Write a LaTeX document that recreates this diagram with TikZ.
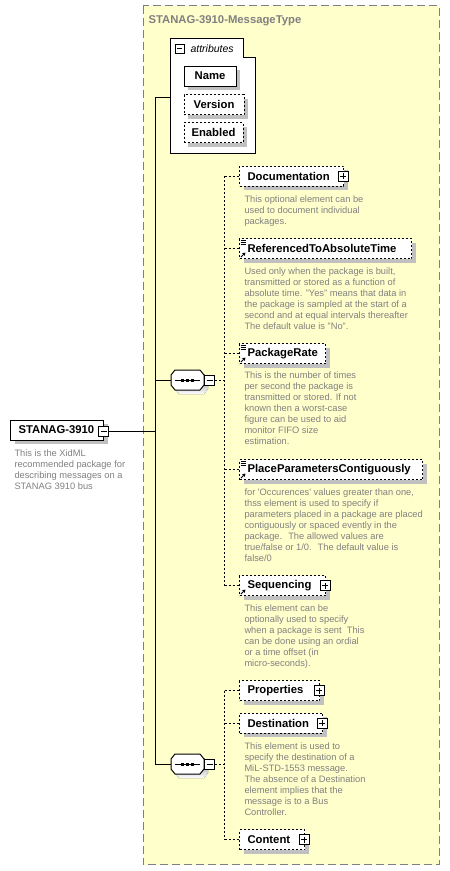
\documentclass[tikz,border=0pt]{standalone}
\usepackage{fontspec}
\setmainfont{Liberation Sans}
\usetikzlibrary{shadows,arrows.meta,positioning}

\definecolor{boxfill}{RGB}{255,255,204}
\definecolor{descgray}{RGB}{128,128,128}
\definecolor{shade}{RGB}{192,192,192}
\newcommand\elfont{\fontsize{11.3}{13}\selectfont\bfseries}
\newcommand\descfont{\fontsize{9.3}{11}\selectfont}
\newcommand\textlines[1]{\foreach \k in {2,4,6} {\draw ([xshift=1.5pt,yshift=-\k pt]#1.north west) -- ++(5pt,0);}}
\newcommand\refarrow[1]{\draw[-{Triangle[length=3pt,width=3.5pt]}] ([xshift=2pt,yshift=2pt]#1.south west) -- ++(4.5pt,4.5pt);}

\tikzset{
  dots/.style={dash pattern=on 2pt off 2pt},
  boxshadow/.style={drop shadow={shadow xshift=4pt, shadow yshift=-4pt, fill=shade, opacity=1}},
  elem/.style={draw, fill=white, anchor=west, minimum height=20pt, inner xsep=8pt, inner ysep=0pt,
    text width=#1, align=left, font=\elfont, boxshadow},
  attr/.style={draw, fill=white, minimum height=20pt, minimum width=#1, inner sep=0pt, font=\elfont, boxshadow},
  % anchored at the baseline of the last line
  desc/.style={anchor=base west, inner sep=0pt, align=left, font=\descfont, text=descgray},
  minus/.style={draw, fill=white, minimum size=10pt, inner sep=0pt,
    path picture={\draw ([xshift=2pt]path picture bounding box.west) -- ([xshift=-2pt]path picture bounding box.east);}},
  plus/.style={minus, path picture={
    \draw ([xshift=2pt]path picture bounding box.west) -- ([xshift=-2pt]path picture bounding box.east);
    \draw ([yshift=-2pt]path picture bounding box.north) -- ([yshift=2pt]path picture bounding box.south);}},
  seqnode/.style={minimum width=33pt, minimum height=20pt, inner sep=0pt}
}

\begin{document}
\begin{tikzpicture}[x=1pt, y=-1pt, line width=1pt]
  \useasboundingbox (0,0) rectangle (450,871);
  \filldraw[fill=boxfill, draw=descgray, dash pattern=on 8pt off 4pt] (143,5.5) rectangle (439,864.5);
  \node[anchor=base west, font=\elfont, text=descgray, inner sep=0pt] (title) at (148,23) {STANAG-3910-MessageType};

  % attributes
  \filldraw[fill=white] (170.5,38) -- (243,38) -- (243,57) -- (255,57) -- (255,153) -- (170.5,153) -- cycle;
  \node[minus, minimum size=9pt] (attmin) at (179.5,48.5) {};
  \node[anchor=base west, inner sep=0pt, font=\fontsize{10.5}{12}\selectfont\itshape] (attlbl) at (190,52) {attributes};
  \node[attr=52pt] (name) at (210,76) {Name};
  \node[attr=60pt, dots] (version) at (214,104.5) {Version};
  \node[attr=59pt, dots] (enabled) at (213.5,132.5) {Enabled};
  \coordinate (atop) at (170.5,97);
  \coordinate (bus) at (155.5,97);

  % root element
  \node[elem=77pt] (root) at (10,430) {STANAG-3910};
  \node[minus] (rootmin) at (103.5,431) {};
  \node[desc] (rootdesc) at (14,489) {This is the XidML\\recommended package for\\describing messages on a\\STANAG 3910 bus};

  % compositors
  \node[seqnode] (seqa) at (187.5,380) {};
  \node[seqnode] (seqb) at (187.5,764) {};
  \foreach \n/\y in {seqa/380, seqb/764} {
    \fill[shade] (179,\y-6) -- (204,\y-6) -- (208,\y-1) -- (208,\y+9) -- (204,\y+14) -- (179,\y+14) -- (175,\y+9) -- (175,\y-1) -- cycle;
    \filldraw[fill=white] (175,\y-10) -- (200,\y-10) -- (204,\y-5) -- (204,\y+5) -- (200,\y+10) -- (175,\y+10) -- (171,\y+5) -- (171,\y-5) -- cycle;
    \draw (175,\y) -- (200,\y);
    \foreach \d in {181,186,191}
      \fill (\d,\y-1.5) rectangle ++(3,3);
  }
  \node[minus] (mina) at (209.5,380) {};
  \node[minus] (minb) at (209.5,764) {};

  \draw (atop) -- (bus) |- (seqb.west);
  \draw (seqa.west) -- (seqa.west -| bus);
  \draw (rootmin.east) -- (rootmin.east -| bus);

  % first sequence
  \node[elem=88pt, dots] (doc) at (239,176) {Documentation};
  \node[plus] (docp) at ([xshift=-1pt]doc.east) {};
  \node[desc] (docdesc) at (244,224) {This optional element can be\\used to document individual\\packages.};

  \node[elem=156pt, dots] (ref) at (239,248.5) {ReferencedToAbsoluteTime};
  \node[desc] (refdesc) at (244,329) {Used only when the package is built,\\transmitted or stored as a function of\\absolute time. "Yes" means that data in\\the package is sampled at the start of a\\second and at equal intervals thereafter\\The default value is "No".};

  \node[elem=70pt, dots] (rate) at (239,353.5) {PackageRate};
  \node[desc] (ratedesc) at (244,444.5) {This is the number of times\\per second the package is\\transmitted or stored. If not\\known then a worst-case\\figure can be used to aid\\monitor FIFO size\\estimation.};

  \node[elem=167pt, dots] (place) at (239,469.5) {PlaceParametersContiguously};
  \node[desc] (placedesc) at (244,561) {for \textquotesingle Occurences\textquotesingle{} values greater than one,\\thss element is used to specify if\\parameters placed in a package are placed\\contiguously or spaced evently in the\\package.~ The allowed values are\\true/false or 1/0.~ The default value is\\false/0};

  \node[elem=70pt, dots] (seqn) at (239,585.5) {Sequencing};
  \node[plus] (seqnp) at ([xshift=-1pt]seqn.east) {};
  \node[desc] (seqndesc) at (244,666) {This element can be\\optionally used to specify\\when a package is sent~ This\\can be done using an ordial\\or a time offset (in\\micro-seconds).};

  \foreach \n in {ref,rate,place} {\textlines{\n}}
  \foreach \n in {ref,rate,place,seqn} {\refarrow{\n}}

  \coordinate (bra) at (224.5,380);
  \draw[dots] (mina.east) -- (bra);
  \draw[dots] (bra |- doc.west) -- (bra |- seqn.west);
  \foreach \n in {doc,ref,rate,place,seqn}
    \draw[dots] (bra |- \n.west) -- (\n.west);

  % second sequence
  \node[elem=64pt, dots] (prop) at (239,690.5) {Properties};
  \node[plus] (propp) at ([xshift=-1pt]prop.east) {};
  \node[elem=67pt, dots] (dest) at (239,723) {Destination};
  \node[plus] (destp) at ([xshift=-1pt]dest.east) {};
  \node[desc] (destdesc) at (244,815) {This element is used to\\specify the destination of a\\MiL-STD-1553 message.\\The absence of a Destination\\element implies that the\\message is to a Bus\\Controller.};
  \node[elem=49pt, dots] (cont) at (239,839.5) {Content};
  \node[plus] (contp) at ([xshift=-1pt]cont.east) {};

  \coordinate (brb) at (224.5,764);
  \draw[dots] (minb.east) -- (brb);
  \draw[dots] (brb |- prop.west) -- (brb |- cont.west);
  \foreach \n in {prop,dest,cont}
    \draw[dots] (brb |- \n.west) -- (\n.west);
\end{tikzpicture}
\end{document}
